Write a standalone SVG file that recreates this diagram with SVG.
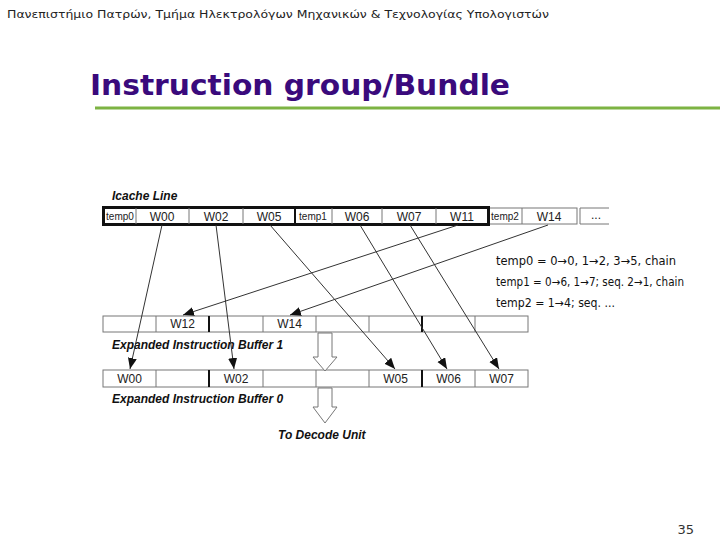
<svg xmlns="http://www.w3.org/2000/svg" width="720" height="540" viewBox="0 0 720 540">
<style>
.hdr{font-family:"DejaVu Sans",Verdana,sans-serif;font-size:11px;fill:#222}
.title{font-family:"DejaVu Sans",Verdana,sans-serif;font-size:28px;font-weight:bold;fill:#3a0a7c}
.lbl{font-family:"Liberation Sans",Arial,sans-serif;font-size:12px;font-weight:bold;font-style:italic;fill:#111}
.cell{font-family:"Liberation Sans",Arial,sans-serif;font-size:12px;fill:#222;text-anchor:middle}
.tmp{font-family:"Liberation Sans",Arial,sans-serif;font-size:10px;fill:#222;text-anchor:middle}
.leg{font-family:"DejaVu Sans Condensed","DejaVu Sans",sans-serif;font-size:11.5px;fill:#111}
.box{fill:#fff;stroke:#777;stroke-width:1}
.div{stroke:#777;stroke-width:1}
.thick{stroke:#111;stroke-width:2}
.conn{stroke:#333;stroke-width:1;fill:none}
.hollow{fill:#fff;stroke:#777;stroke-width:1}
</style>
<defs>
<marker id="ah" markerUnits="userSpaceOnUse" markerWidth="12" markerHeight="10" refX="11" refY="4.5" orient="auto">
<path d="M0,0 L11,4.5 L0,9 z" fill="#111"/>
</marker>
</defs>
<rect width="720" height="540" fill="#fff"/>
<text class="hdr" x="7" y="18" textLength="542" lengthAdjust="spacingAndGlyphs">Πανεπιστήμιο Πατρών, Τμήμα Ηλεκτρολόγων Μηχανικών &amp; Τεχνολογίας Υπολογιστών</text>
<text class="title" x="90" y="95" textLength="420" lengthAdjust="spacingAndGlyphs">Instruction group/Bundle</text>
<line x1="95" y1="108" x2="720" y2="108" stroke="#7db343" stroke-width="3"/>

<g id="icache">
<text class="lbl" x="112" y="200">Icache Line</text>
<rect class="box" x="489" y="208" width="88" height="16"/>
<line class="div" x1="522" y1="208" x2="522" y2="224"/>
<path d="M609,208 L580,208 L580,224 L609,224" fill="none" stroke="#777" stroke-width="1"/>
<rect x="103.5" y="207.5" width="385" height="17" fill="#fff" stroke="#111" stroke-width="3"/>
<line class="div" x1="136" y1="208" x2="136" y2="224"/>
<line class="div" x1="189" y1="208" x2="189" y2="224"/>
<line class="div" x1="243" y1="208" x2="243" y2="224"/>
<line class="thick" x1="295" y1="208" x2="295" y2="224"/>
<line class="div" x1="332" y1="208" x2="332" y2="224"/>
<line class="div" x1="382" y1="208" x2="382" y2="224"/>
<line class="div" x1="436" y1="208" x2="436" y2="224"/>
<text class="tmp" x="120" y="220">temp0</text>
<text class="cell" x="162" y="221">W00</text>
<text class="cell" x="216" y="221">W02</text>
<text class="cell" x="269" y="221">W05</text>
<text class="tmp" x="313" y="220">temp1</text>
<text class="cell" x="357" y="221">W06</text>
<text class="cell" x="409" y="221">W07</text>
<text class="cell" x="462" y="221">W11</text>
<text class="tmp" x="505" y="220">temp2</text>
<text class="cell" x="549" y="221">W14</text>
<text class="cell" x="596" y="219">...</text>
</g>

<g id="buffer1">
<rect class="box" x="103" y="316" width="425" height="16"/>
<line class="div" x1="156" y1="316" x2="156" y2="332"/>
<line class="thick" x1="209" y1="316" x2="209" y2="332" stroke-width="1.5"/>
<line class="div" x1="263" y1="316" x2="263" y2="332"/>
<line class="div" x1="316" y1="316" x2="316" y2="332"/>
<line class="div" x1="369" y1="316" x2="369" y2="332"/>
<line class="thick" x1="422" y1="316" x2="422" y2="332" stroke-width="1.5"/>
<line class="div" x1="475" y1="316" x2="475" y2="332"/>
<text class="cell" x="182.5" y="328">W12</text>
<text class="cell" x="289.5" y="328">W14</text>
<text class="lbl" x="112" y="349">Expanded Instruction Buffer 1</text>
</g>

<g id="buffer0">
<rect class="box" x="103" y="370" width="425" height="17"/>
<line class="div" x1="156" y1="370" x2="156" y2="387"/>
<line class="thick" x1="209" y1="370" x2="209" y2="387" stroke-width="1.5"/>
<line class="div" x1="263" y1="370" x2="263" y2="387"/>
<line class="div" x1="316" y1="370" x2="316" y2="387"/>
<line class="div" x1="369" y1="370" x2="369" y2="387"/>
<line class="thick" x1="422" y1="370" x2="422" y2="387" stroke-width="1.5"/>
<line class="div" x1="475" y1="370" x2="475" y2="387"/>
<text class="cell" x="129.5" y="383">W00</text>
<text class="cell" x="236" y="383">W02</text>
<text class="cell" x="395.5" y="383">W05</text>
<text class="cell" x="448.5" y="383">W06</text>
<text class="cell" x="501.5" y="383">W07</text>
<text class="lbl" x="112" y="403">Expanded Instruction Buffer 0</text>
</g>

<g id="legend">
<text class="leg" x="496" y="265" textLength="180" lengthAdjust="spacingAndGlyphs">temp0 = 0→0, 1→2, 3→5, chain</text>
<text class="leg" x="496" y="286" textLength="188" lengthAdjust="spacingAndGlyphs">temp1 = 0→6, 1→7; seq. 2→1, chain</text>
<text class="leg" x="496" y="307" textLength="119" lengthAdjust="spacingAndGlyphs">temp2 = 1→4; seq. ...</text>
</g>

<g id="decode">
<polygon class="hollow" points="318,333 332,333 332,357 337,357 325,371 313,357 318,357"/>
<polygon class="hollow" points="318,388 332,388 332,407 337,407 325,423 313,407 318,407"/>
<text class="lbl" x="278" y="439">To Decode Unit</text>
</g>

<g id="connectors">
<line class="conn" x1="162" y1="225" x2="130" y2="369" marker-end="url(#ah)"/>
<line class="conn" x1="216" y1="225" x2="234" y2="369" marker-end="url(#ah)"/>
<line class="conn" x1="270" y1="225" x2="395" y2="369" marker-end="url(#ah)"/>
<line class="conn" x1="360" y1="225" x2="447" y2="369" marker-end="url(#ah)"/>
<line class="conn" x1="410" y1="225" x2="499" y2="369" marker-end="url(#ah)"/>
<line class="conn" x1="458" y1="225" x2="183" y2="315" marker-end="url(#ah)"/>
<line class="conn" x1="548" y1="225" x2="290" y2="315" marker-end="url(#ah)"/>
</g>

<text x="694" y="534" font-family="'DejaVu Sans',Verdana,sans-serif" font-size="13" fill="#333" text-anchor="end">35</text>
</svg>
